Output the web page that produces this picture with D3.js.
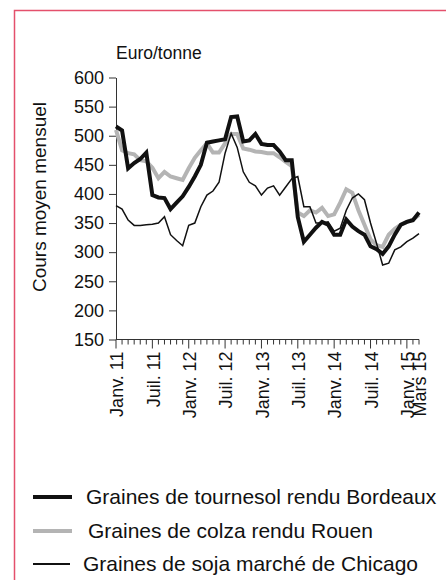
<!DOCTYPE html>
<html lang="fr">
<head>
  <meta charset="UTF-8">
  <title>Cours moyen mensuel des graines oléagineuses</title>
  <script src="https://d3js.org/d3.v7.min.js"></script>
  <style>
    body {
      margin: 0;
      background: #fff;
      font-family: "Liberation Sans", Arial, sans-serif;
    }
    .axis text {
      font-size: 18px;
      fill: #111;
      font-family: "Liberation Sans", Arial, sans-serif;
    }
    .axis path, .axis line {
      stroke: #333;
    }
  </style>
</head>
<body>

<svg width="446" height="580"></svg>

<script>
  // months Jan 2011 .. Mar 2015
  const months = d3.timeMonth.range(new Date(2011, 0, 1), new Date(2015, 3, 1))
    .map(d3.timeFormat("%Y-%m"));

  const tournesol = [516, 509, 444, 453, 460, 471, 398, 394, 393, 374, 385, 396,
    412, 430, 450, 488, 490, 492, 494, 532, 533, 490, 492, 503,
    486, 484, 484, 473, 458, 458, 360, 318, 330, 342, 352, 347,
    330, 330, 356, 344, 336, 330, 310, 305, 297, 310, 330, 347,
    352, 355, 368];

  const colza = [510, 475, 470, 468, 458, 456, 445, 427, 438, 430, 427, 424,
    444, 462, 475, 487, 471, 471, 487, 503, 503, 478, 476, 473,
    472, 470, 470, 463, 455, 448, 368, 362, 372, 368, 376, 362,
    365, 385, 408, 402, 372, 347, 322, 312, 309, 330, 340, 347,
    352, 356, 364];

  const soja = [380, 374, 355, 346, 346, 347, 348, 350, 361, 330, 320, 311,
    346, 350, 378, 398, 405, 420, 470, 504, 480, 438, 420, 414,
    398, 410, 414, 398, 412, 426, 430, 378, 378, 350, 350, 352,
    336, 341, 372, 393, 400, 390, 350, 315, 278, 281, 304, 309,
    318, 324, 332];

  const yTicks = [150, 200, 250, 300, 350, 400, 450, 500, 550, 600];
  const tickLabels = [
    ["2011-01", "Janv. 11"], ["2011-07", "Juil. 11"],
    ["2012-01", "Janv. 12"], ["2012-07", "Juil. 12"],
    ["2013-01", "Janv. 13"], ["2013-07", "Juil. 13"],
    ["2014-01", "Janv. 14"], ["2014-07", "Juil. 14"],
    ["2015-01", "Janv. 15"], ["2015-03", "Mars 15"]
  ];

  const series = [
    { name: "Graines de tournesol rendu Bordeaux", values: tournesol, color: "#111", width: 4 },
    { name: "Graines de colza rendu Rouen", values: colza, color: "#b4b4b4", width: 4 },
    { name: "Graines de soja marché de Chicago", values: soja, color: "#111", width: 1.5 }
  ];

  const svg = d3.select("svg");

  // pink frame (left and top edges)
  svg.append("path")
    .attr("d", "M14.5,580V10.5H446")
    .attr("fill", "none")
    .attr("stroke", "#e4506c")
    .attr("stroke-width", 1.5);

  const x = d3.scalePoint().domain(months).range([116, 419]);
  const y = d3.scaleLinear().domain([150, 600]).range([339.5, 77.5]);

  // Y axis
  svg.append("g")
    .attr("class", "axis")
    .attr("transform", "translate(116,0)")
    .call(d3.axisLeft(y).tickValues(yTicks).tickSize(7).tickSizeOuter(0).tickPadding(5))
    .call(g => g.selectAll("line").attr("stroke", "#555"));

  // X axis: minor tick every month, longer tick each Jan/Jul
  const xg = svg.append("g")
    .attr("class", "axis")
    .attr("transform", "translate(0,339.5)");
  xg.append("line")
    .attr("x1", x(months[0])).attr("x2", x(months[months.length - 1]))
    .attr("stroke", "#333");
  xg.selectAll("line.tick")
    .data(months)
    .join("line")
    .attr("class", "tick")
    .attr("x1", d => x(d)).attr("x2", d => x(d))
    .attr("y1", 0)
    .attr("y2", d => (d.endsWith("-01") || d.endsWith("-07")) ? 9 : 5)
    .attr("stroke", "#444");
  xg.selectAll("text")
    .data(tickLabels)
    .join("text")
    .attr("transform", d => `translate(${x(d[0]) + 1},12) rotate(-90)`)
    .attr("dy", "0.35em")
    .attr("text-anchor", "end")
    .text(d => d[1]);

  // Titles
  svg.append("text")
    .attr("x", 116).attr("y", 59)
    .attr("font-size", 17.5)
    .attr("fill", "#111")
    .text("Euro/tonne");

  svg.append("text")
    .attr("transform", `translate(46,197) rotate(-90)`)
    .attr("text-anchor", "middle")
    .attr("font-size", 19)
    .attr("fill", "#111")
    .text("Cours moyen mensuel");

  // Lines
  const line = d3.line()
    .x((d, i) => x(months[i]))
    .y(d => y(d));

  svg.selectAll("path.serie")
    .data([series[1], series[0], series[2]])
    .join("path")
    .attr("class", "serie")
    .attr("fill", "none")
    .attr("stroke", d => d.color)
    .attr("stroke-width", d => d.width)
    .attr("stroke-linejoin", "miter")
    .attr("d", d => line(d.values));

  // Legend
  const legendRows = [
    { y: 497, x1: 33, x2: 72, tx: 86 },
    { y: 531, x1: 33, x2: 72, tx: 88 },
    { y: 564, x1: 33, x2: 70, tx: 83 }
  ];
  const legend = svg.append("g");
  series.forEach((s, i) => {
    const r = legendRows[i];
    legend.append("line")
      .attr("x1", r.x1).attr("x2", r.x2)
      .attr("y1", r.y).attr("y2", r.y)
      .attr("stroke", s.color)
      .attr("stroke-width", s.width === 4 ? 4 : 2);
    legend.append("text")
      .attr("x", r.tx).attr("y", r.y)
      .attr("dy", "0.35em")
      .attr("font-size", 21)
      .attr("fill", "#111")
      .text(s.name);
  });
</script>

</body>
</html>
